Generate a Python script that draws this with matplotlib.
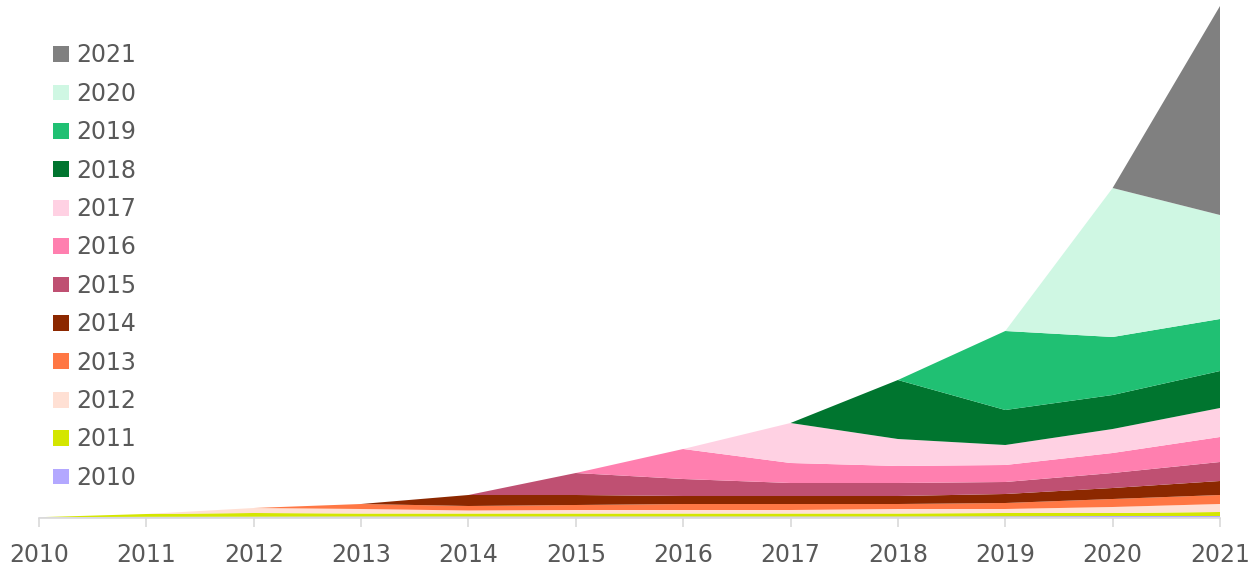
import matplotlib.pyplot as plt
import numpy as np

years = list(range(2010, 2022))
cohorts = [str(y) for y in years]

# value of each cohort at each year (bottom of stack first)
c2010 = [0.3, 0.7, 0.8, 1, 1, 1, 1, 1, 1, 1.2, 1.5, 1.5]
c2011 = [0, 2.8, 3.7, 3, 3, 3, 3, 3, 3, 3.3, 3, 4]
c2012 = [0, 0, 5, 4.5, 3, 3.5, 3.5, 3.5, 4.5, 4, 6, 8]
c2013 = [0, 0, 0, 5, 4.5, 5, 6, 6, 5, 6, 8, 9]
c2014 = [0, 0, 0, 0, 11, 10, 8, 8, 8, 9, 11, 14]
c2015 = [0, 0, 0, 0, 0, 22, 17, 13, 13, 12, 15, 19]
c2016 = [0, 0, 0, 0, 0, 0, 30, 20, 17, 17, 20, 25]
c2017 = [0, 0, 0, 0, 0, 0, 0, 40, 27, 20, 24, 29]
c2018 = [0, 0, 0, 0, 0, 0, 0, 0, 59, 35, 34, 37]
c2019 = [0, 0, 0, 0, 0, 0, 0, 0, 0, 79, 58, 52]
c2020 = [0, 0, 0, 0, 0, 0, 0, 0, 0, 0, 149, 104]
c2021 = [0, 0, 0, 0, 0, 0, 0, 0, 0, 0, 0, 209]

series = [c2010, c2011, c2012, c2013, c2014, c2015,
          c2016, c2017, c2018, c2019, c2020, c2021]

colors = ['#B3A8FF', '#D4E600', '#FFE0D4', '#FF7744', '#8C2800', '#BF5072',
          '#FF7FAF', '#FFD1E3', '#00752F', '#20C073', '#CFF7E3', '#808080']

fig = plt.figure(figsize=(12.6, 5.71), dpi=100)
ax = fig.add_axes([39 / 1260, (571 - 517.5) / 571, 1181 / 1260, 511.5 / 571])

polys = ax.stackplot(years, *series, colors=colors, labels=cohorts, linewidth=0)

ax.set_xlim(2010, 2021)
ax.set_ylim(0, 511.5)
ax.set_xticks(years)
ax.set_xticklabels([str(y) for y in years])
ax.set_yticks([])

for s in ['top', 'right', 'left']:
    ax.spines[s].set_visible(False)
ax.spines['bottom'].set_color('#D9D9D9')
ax.spines['bottom'].set_linewidth(1.2)
ax.tick_params(axis='x', colors='#D9D9D9', length=6.5, width=1.2, pad=12,
               labelcolor='#595959', labelsize=17)

handles, labels = ax.get_legend_handles_labels()
leg = ax.legend(handles[::-1], labels[::-1], loc='upper left',
                bbox_to_anchor=(44 / 1260, 1 - 34 / 571),
                bbox_transform=fig.transFigure, frameon=False,
                fontsize=17, handlelength=0.65, handleheight=0.65,
                handletextpad=0.3, labelspacing=0.61, borderaxespad=0)
for t in leg.get_texts():
    t.set_color('#595959')

fig.savefig('out.png', dpi=100)
